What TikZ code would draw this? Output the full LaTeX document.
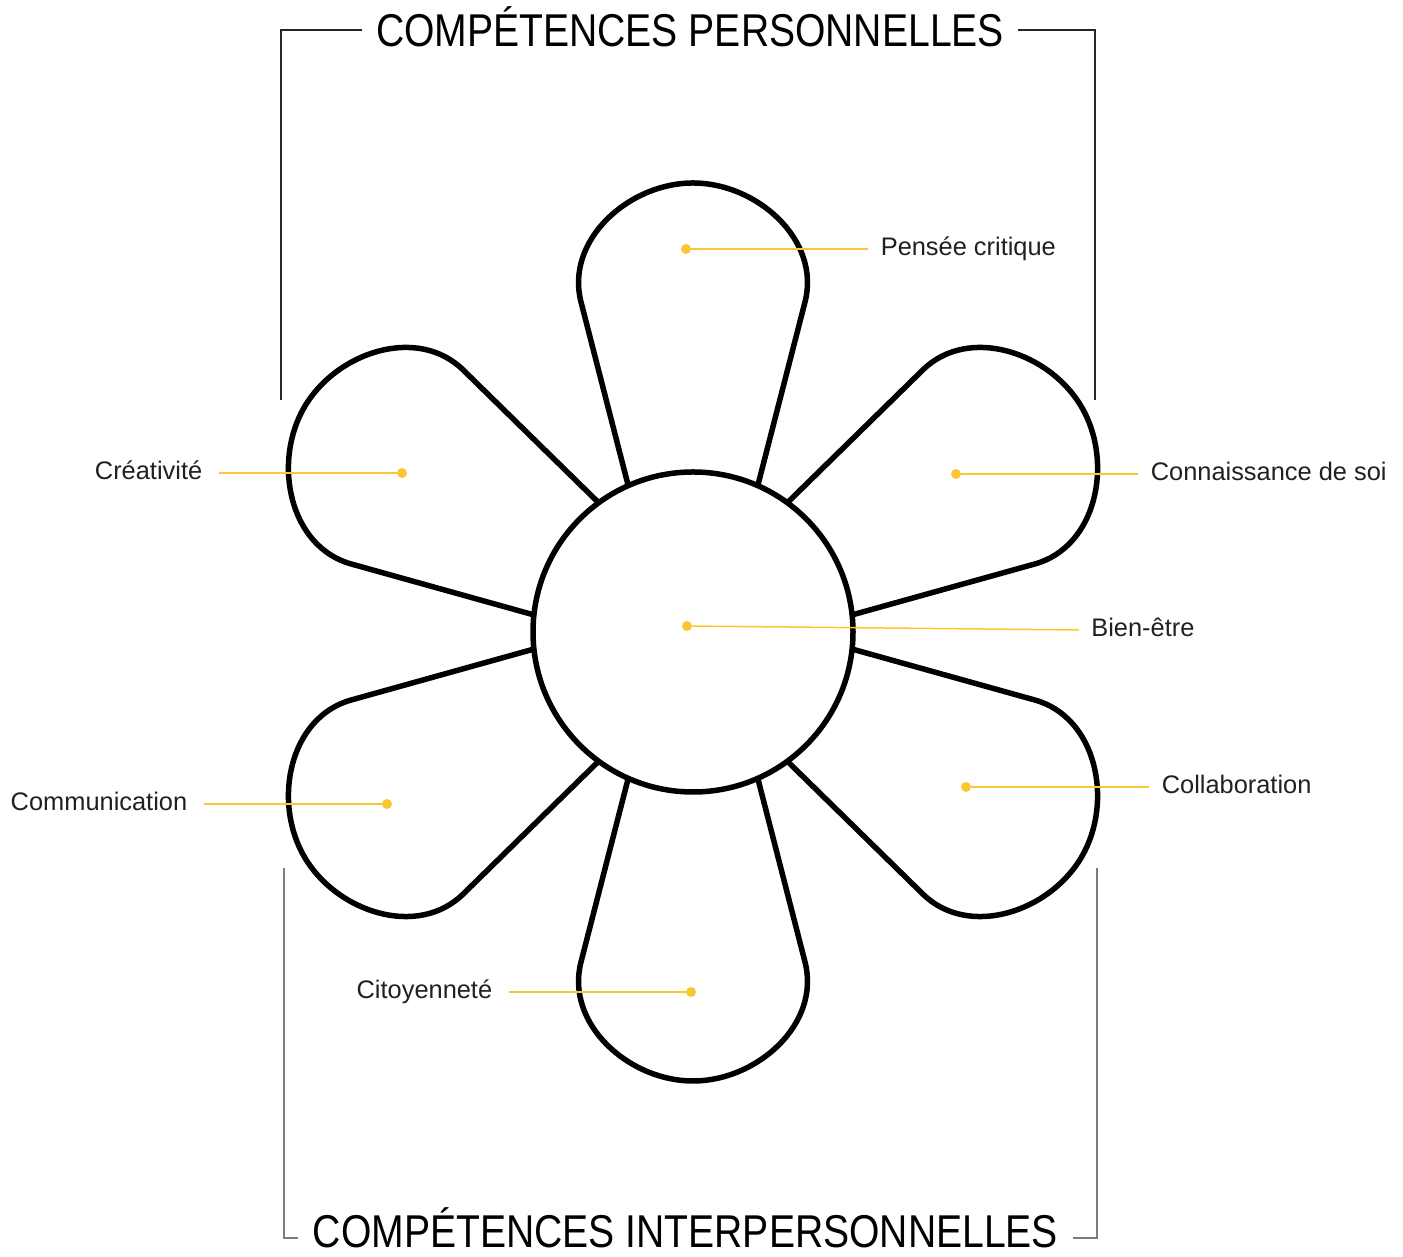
\documentclass[tikz,border=0pt]{standalone}
\usepackage{fontspec}
\setmainfont{Liberation Sans}
\newfontfamily\headfont[FakeStretch=0.85]{Liberation Sans}
\usetikzlibrary{positioning}

\definecolor{petalyellow}{RGB}{250,199,48}
\definecolor{labelgray}{RGB}{35,31,32}
\definecolor{bracketgray}{RGB}{125,125,125}

\tikzset{
  petal/.style={draw=black, line width=2.75pt, fill=white, line join=round},
  heart/.style={circle, draw=black, line width=2.75pt, fill=white, minimum size=160pt, inner sep=0pt},
  petaldot/.style={circle, fill=petalyellow, minimum size=5pt, inner sep=0pt},
  leader/.style={petalyellow, line width=0.75pt},
  skill/.style={font=\fontsize{12.7}{15}\selectfont, text=labelgray, inner sep=0pt, inner xsep=6pt, text height=9.1pt, text depth=3pt},
  skillleft/.style={skill, inner xsep=8pt},
  heading/.style={font=\headfont\fontsize{23}{27}\selectfont, inner ysep=0pt, inner xsep=7pt, text height=16.5pt, text depth=0pt},
  bracket/.style={line width=0.75pt, black!85},
  bracketlow/.style={line width=0.75pt, bracketgray},
}

\begin{document}
\begin{tikzpicture}[x=0.5pt, y=0.5pt]
\useasboundingbox (0,0) rectangle (1403,1257);

% petals
\foreach \a in {30,90,...,330}
  \draw[petal, shift={(693,625)}, rotate=\a-90] (-58,120) -- (-112,330)
    .. controls (-128,392) and (-64,449) .. (0,449)
    .. controls (64,449) and (128,392) .. (112,330) -- (58,120) -- cycle;

% centre
\node[heart] (heart) at (693,625) {};

% dots and labels
\node[petaldot] (pc-dot) at (686,1008) {};
\node[skill, anchor=west, right=88.5pt of pc-dot] (pc-lbl) {Pensée critique};
\node[petaldot] (cs-dot) at (956,783) {};
\node[skill, anchor=west, right=88.5pt of cs-dot] (cs-lbl) {Connaissance de soi};
\node[petaldot] (be-dot) at (687,631) {};
\node[skill, anchor=west] (be-lbl) at (1079,627) {Bien-être};
\node[petaldot] (co-dot) at (966,470) {};
\node[skill, anchor=west, right=89pt of co-dot] (co-lbl) {Collaboration};
\node[petaldot] (cr-dot) at (402,784) {};
\node[skillleft, anchor=east, left=89pt of cr-dot] (cr-lbl) {Créativité};
\node[petaldot] (cm-dot) at (387,453) {};
\node[skillleft, anchor=east, left=89pt of cm-dot] (cm-lbl) {Communication};
\node[petaldot] (ci-dot) at (691,265) {};
\node[skillleft, anchor=east, left=88.5pt of ci-dot] (ci-lbl) {Citoyenneté};

\draw[leader] (pc-dot) -- (pc-lbl.west);
\draw[leader] (cs-dot) -- (cs-lbl.west);
\draw[leader] (be-dot) -- (be-lbl.west);
\draw[leader] (co-dot) -- (co-lbl.west);
\draw[leader] (cr-dot) -- (cr-lbl.east);
\draw[leader] (cm-dot) -- (cm-lbl.east);
\draw[leader] (ci-dot) -- (ci-lbl.east);

% headings and brackets
\node[heading] (head-top) at (690,1227) {COMPÉTENCES PERSONNELLES};
\node[heading] (head-bot) at (685.5,26) {COMPÉTENCES INTERPERSONNELLES};
\coordinate (tl) at (281,857);
\coordinate (tr) at (1095,857);
\coordinate (bl) at (284,389);
\coordinate (br) at (1097,389);
\draw[bracket] (head-top.west) -| (tl);
\draw[bracket] (head-top.east) -| (tr);
\draw[bracketlow] (bl) |- ([yshift=-3.5pt]head-bot.west);
\draw[bracketlow] (br) |- ([yshift=-3.5pt]head-bot.east);

\end{tikzpicture}
\end{document}
